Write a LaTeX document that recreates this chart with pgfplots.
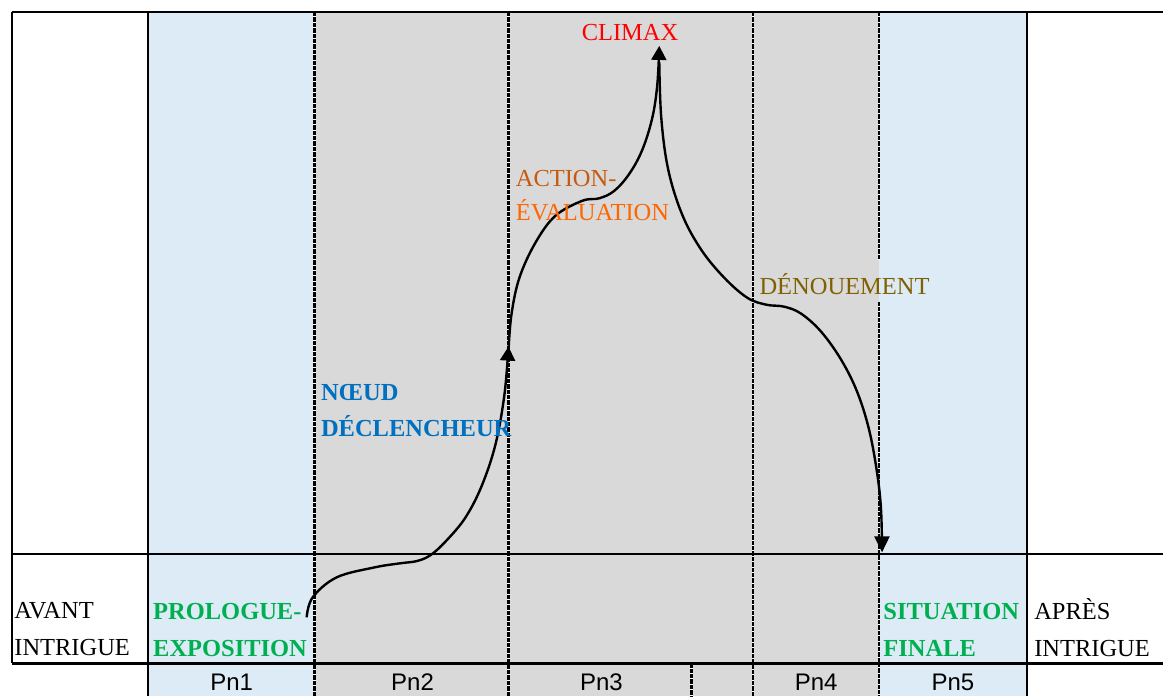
\documentclass[border=0pt]{standalone}
\usepackage{pgfplots}
\pgfplotsset{compat=1.18}
\usetikzlibrary{arrows.meta}
\usepackage{fontspec}
\setmainfont{Liberation Serif}
\newfontfamily\arialfont{Liberation Sans}
\definecolor{cellblue}{RGB}{221,235,247}
\definecolor{cellgray}{RGB}{217,217,217}
\definecolor{txtgreen}{RGB}{0,176,80}
\definecolor{txtblue}{RGB}{0,112,192}
\definecolor{txtorangeA}{RGB}{197,90,17}
\definecolor{txtorangeB}{RGB}{255,102,0}
\definecolor{txtolive}{RGB}{128,96,0}
\tikzset{
  dashW/.style={white, line width=1.3pt},
  dashB/.style={black, line width=1.3pt, dash pattern=on 2.2pt off 0.5pt},
  solidB/.style={black, line width=1.3pt},
  curve/.style={black, line width=1.2pt, smooth, tension=0.6},
  lbl/.style={anchor=base west, inner sep=0pt, font=\fontsize{12.25}{14}\selectfont},
  lblb/.style={anchor=base west, inner sep=0pt, font=\bfseries\fontsize{12.25}{14}\selectfont},
  pn/.style={anchor=base, inner sep=0pt, font=\arialfont\fontsize{12}{14}\selectfont},
}
\begin{document}
\begin{tikzpicture}
\begin{axis}[
  width=582pt, height=348.5pt, scale only axis,
  xmin=0, xmax=1164, ymin=0, ymax=697, y dir=reverse,
  axis lines=none, clip=false, no markers,
]
% full frame (for the bounding box)
\addplot[draw=none] coordinates {(0,0) (1164,0) (1164,697) (0,697) (0,0)};
% cell fills
\addplot[fill=cellblue, draw=none] coordinates {(148,12) (315,12) (315,697) (148,697)};
\addplot[fill=cellgray, draw=none] coordinates {(315,12) (880,12) (880,697) (315,697)};
\addplot[fill=cellblue, draw=none] coordinates {(880,12) (1028,12) (1028,697) (880,697)};
% dashed column borders
\addplot[dashW] coordinates {(315,12) (315,697)};
\addplot[dashB] coordinates {(315,12) (315,697)};
\addplot[dashW] coordinates {(509,12) (509,697)};
\addplot[dashB] coordinates {(509,12) (509,697)};
\addplot[dashW] coordinates {(754,12) (754,697)};
\addplot[dashB] coordinates {(754,12) (754,697)};
\addplot[dashW] coordinates {(880,12) (880,260)};
\addplot[dashB] coordinates {(880,12) (880,260)};
\addplot[dashW] coordinates {(880,302) (880,697)};
\addplot[dashB] coordinates {(880,302) (880,697)};
\addplot[dashW] coordinates {(692,664) (692,697)};
\addplot[dashB] coordinates {(692,664) (692,697)};
% solid borders
\addplot[solidB] coordinates {(12,12) (1164,12)};
\addplot[solidB] coordinates {(12,12) (12,664)};
\addplot[solidB] coordinates {(148,12) (148,697)};
\addplot[solidB] coordinates {(1028,12) (1028,697)};
\addplot[black, line width=1.1pt] coordinates {(12,555) (1164,555)};
\addplot[solidB] coordinates {(12,664) (1164,664)};
% narrative curve
\addplot[curve, -{Triangle[length=7pt, width=7.5pt]}] coordinates {
  (307,618) (313,598) (337,578) (375,568) (400,564)
  (418,561.5) (432,555) (448,540) (466,518) (482,487) (496,445)
  (505,395) (509,347)};
\addplot[curve, -{Triangle[length=7pt, width=7.5pt]}] coordinates {
  (509,352) (512,315) (520,278) (536,243) (556,216)
  (583,201) (600,198.5) (615,191) (630,174) (643,150) (653,118) (658,85) (660,46)};
\addplot[curve, -{Triangle[length=8pt, width=7.5pt]}] coordinates {
  (660,62) (662,118) (669,170) (683,215) (702,250) (725,278)
  (748,298) (767,305) (785,307) (802,314) (822,332) (842,360)
  (858,392) (870,430) (878,473) (882,510) (883,553)};
% labels
\node[lbl] at (axis cs:14,619) {AVANT};
\node[lbl] at (axis cs:14,656) {INTRIGUE};
\node[lblb, text=txtgreen] at (axis cs:153,620) {PROLOGUE-};
\node[lblb, text=txtgreen] at (axis cs:153,657) {EXPOSITION};
\node[lblb, text=txtblue] at (axis cs:321,401) {NŒUD};
\node[lblb, text=txtblue] at (axis cs:321,437) {DÉCLENCHEUR};
\node[lbl, text=txtorangeA] at (axis cs:516,187) {ACTION-};
\node[lbl, text=txtorangeB] at (axis cs:516,221) {ÉVALUATION};
\node[lbl, text=red] at (axis cs:582,41) {CLIMAX};
\node[lbl, text=txtolive] at (axis cs:760,295) {DÉNOUEMENT};
\node[lblb, text=txtgreen] at (axis cs:884,620) {SITUATION};
\node[lblb, text=txtgreen] at (axis cs:884,657) {FINALE};
\node[lbl] at (axis cs:1035,620) {APRÈS};
\node[lbl] at (axis cs:1035,657) {INTRIGUE};
% period labels
\node[pn] at (axis cs:232,691) {Pn1};
\node[pn] at (axis cs:413,691) {Pn2};
\node[pn] at (axis cs:602,691) {Pn3};
\node[pn] at (axis cs:817,691) {Pn4};
\node[pn] at (axis cs:954,691) {Pn5};
\end{axis}
\end{tikzpicture}
\end{document}
